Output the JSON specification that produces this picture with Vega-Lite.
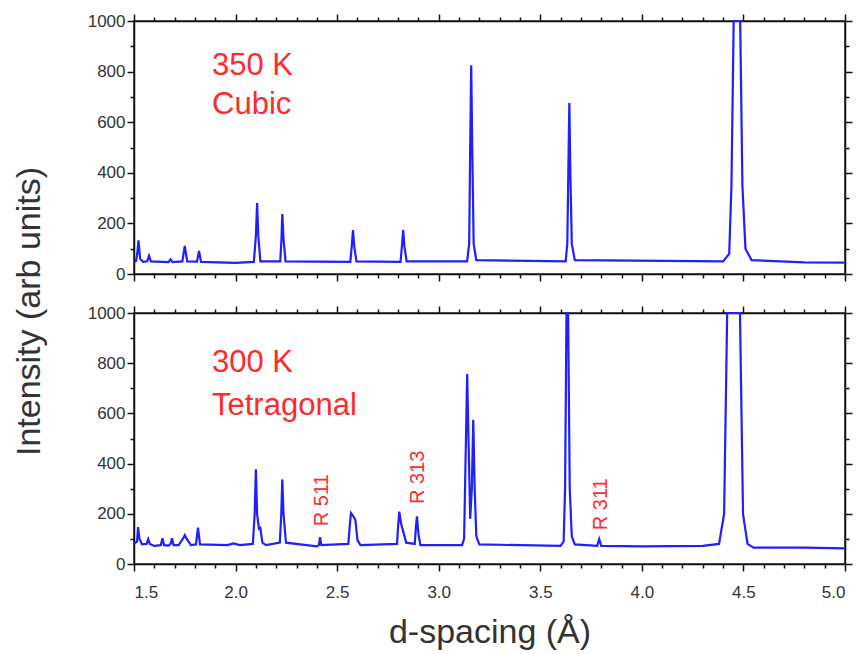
{
  "$schema": "https://vega.github.io/schema/vega-lite/v6.json",
  "padding": {"left": 11, "top": 11, "right": 4, "bottom": 120},
  "bounds": "flush",
  "spacing": 39,
  "config": {
    "view": {"stroke": "#222", "strokeWidth": 1.5},
    "font": "Liberation Sans",
    "axis": {
      "labelFont": "Liberation Sans", "labelFontSize": 17, "labelColor": "#333",
      "tickColor": "#111", "domainColor": "#111", "domainWidth": 1.5, "tickWidth": 1.5,
      "grid": false, "titleFont": "Liberation Sans", "titleFontWeight": "normal",
      "titleColor": "#333", "titleFontSize": 34
    }
  },
  "datasets": {
    "c": [
      {"d": 1.5, "i": 45}, {"d": 1.51, "i": 52}, {"d": 1.516, "i": 80}, {"d": 1.522, "i": 133}, {"d": 1.53, "i": 60}, {"d": 1.545, "i": 48},
      {"d": 1.565, "i": 50}, {"d": 1.574, "i": 72}, {"d": 1.583, "i": 50},
      {"d": 1.67, "i": 47}, {"d": 1.68, "i": 58}, {"d": 1.69, "i": 47},
      {"d": 1.738, "i": 50}, {"d": 1.75, "i": 111}, {"d": 1.762, "i": 50},
      {"d": 1.81, "i": 49}, {"d": 1.82, "i": 91}, {"d": 1.83, "i": 48},
      {"d": 2.0, "i": 44}, {"d": 2.09, "i": 48}, {"d": 2.1, "i": 150}, {"d": 2.106, "i": 280}, {"d": 2.112, "i": 150}, {"d": 2.122, "i": 50},
      {"d": 2.22, "i": 50}, {"d": 2.226, "i": 140}, {"d": 2.23, "i": 237}, {"d": 2.236, "i": 140}, {"d": 2.246, "i": 50},
      {"d": 2.565, "i": 48}, {"d": 2.572, "i": 110}, {"d": 2.578, "i": 174}, {"d": 2.584, "i": 110}, {"d": 2.595, "i": 50},
      {"d": 2.812, "i": 48}, {"d": 2.819, "i": 110}, {"d": 2.825, "i": 174}, {"d": 2.831, "i": 110}, {"d": 2.842, "i": 50},
      {"d": 3.14, "i": 50}, {"d": 3.15, "i": 120}, {"d": 3.155, "i": 500}, {"d": 3.16, "i": 825}, {"d": 3.165, "i": 500}, {"d": 3.172, "i": 120}, {"d": 3.185, "i": 55},
      {"d": 3.625, "i": 50}, {"d": 3.633, "i": 120}, {"d": 3.638, "i": 400}, {"d": 3.643, "i": 676}, {"d": 3.648, "i": 400}, {"d": 3.655, "i": 120}, {"d": 3.67, "i": 55},
      {"d": 4.4, "i": 50}, {"d": 4.43, "i": 80}, {"d": 4.441, "i": 350}, {"d": 4.452, "i": 1000}, {"d": 4.484, "i": 1000}, {"d": 4.495, "i": 350}, {"d": 4.51, "i": 100}, {"d": 4.54, "i": 55},
      {"d": 4.8, "i": 46}, {"d": 5.0, "i": 45}
    ],
    "t": [
      {"d": 1.5, "i": 80}, {"d": 1.515, "i": 90}, {"d": 1.52, "i": 147}, {"d": 1.527, "i": 100}, {"d": 1.54, "i": 78},
      {"d": 1.562, "i": 80}, {"d": 1.57, "i": 99}, {"d": 1.578, "i": 80}, {"d": 1.6, "i": 72},
      {"d": 1.632, "i": 75}, {"d": 1.64, "i": 103}, {"d": 1.648, "i": 75}, {"d": 1.67, "i": 73},
      {"d": 1.68, "i": 80}, {"d": 1.687, "i": 103}, {"d": 1.695, "i": 75}, {"d": 1.72, "i": 75},
      {"d": 1.74, "i": 100}, {"d": 1.75, "i": 115}, {"d": 1.76, "i": 100}, {"d": 1.78, "i": 75},
      {"d": 1.805, "i": 78}, {"d": 1.815, "i": 145}, {"d": 1.825, "i": 78},
      {"d": 1.96, "i": 75}, {"d": 1.99, "i": 82}, {"d": 2.02, "i": 75},
      {"d": 2.085, "i": 80}, {"d": 2.094, "i": 200}, {"d": 2.1, "i": 377}, {"d": 2.106, "i": 200}, {"d": 2.115, "i": 140}, {"d": 2.122, "i": 144}, {"d": 2.132, "i": 85}, {"d": 2.15, "i": 75},
      {"d": 2.218, "i": 85}, {"d": 2.225, "i": 200}, {"d": 2.23, "i": 337}, {"d": 2.236, "i": 200}, {"d": 2.248, "i": 85},
      {"d": 2.4, "i": 70}, {"d": 2.41, "i": 75}, {"d": 2.416, "i": 107}, {"d": 2.422, "i": 75},
      {"d": 2.555, "i": 80}, {"d": 2.562, "i": 150}, {"d": 2.568, "i": 203}, {"d": 2.58, "i": 190}, {"d": 2.59, "i": 175}, {"d": 2.6, "i": 95}, {"d": 2.615, "i": 75},
      {"d": 2.795, "i": 80}, {"d": 2.8, "i": 150}, {"d": 2.806, "i": 209}, {"d": 2.815, "i": 160}, {"d": 2.825, "i": 130}, {"d": 2.84, "i": 85},
      {"d": 2.882, "i": 80}, {"d": 2.888, "i": 150}, {"d": 2.893, "i": 190}, {"d": 2.9, "i": 120}, {"d": 2.91, "i": 75},
      {"d": 3.115, "i": 75}, {"d": 3.125, "i": 100}, {"d": 3.133, "i": 450}, {"d": 3.14, "i": 757}, {"d": 3.148, "i": 450}, {"d": 3.155, "i": 180},
      {"d": 3.163, "i": 300}, {"d": 3.17, "i": 575}, {"d": 3.177, "i": 300}, {"d": 3.185, "i": 110}, {"d": 3.2, "i": 78},
      {"d": 3.6, "i": 72}, {"d": 3.615, "i": 90}, {"d": 3.622, "i": 300}, {"d": 3.629, "i": 1000}, {"d": 3.637, "i": 1000}, {"d": 3.645, "i": 300}, {"d": 3.655, "i": 110}, {"d": 3.67, "i": 78},
      {"d": 3.78, "i": 72}, {"d": 3.79, "i": 99}, {"d": 3.8, "i": 72},
      {"d": 4.0, "i": 70}, {"d": 4.3, "i": 72}, {"d": 4.38, "i": 80}, {"d": 4.405, "i": 200}, {"d": 4.42, "i": 1000}, {"d": 4.483, "i": 1000}, {"d": 4.498, "i": 200}, {"d": 4.52, "i": 80},
      {"d": 4.55, "i": 65}, {"d": 4.8, "i": 65}, {"d": 5.0, "i": 62}
    ],
    "ann": [
      {"p": "c", "k": "big", "x": 1.884, "y": 822, "label": "350 K"},
      {"p": "c", "k": "big", "x": 1.884, "y": 668, "label": "Cubic"},
      {"p": "t", "k": "big", "x": 1.884, "y": 802, "label": "300 K"},
      {"p": "t", "k": "big", "x": 1.884, "y": 631, "label": "Tetragonal"},
      {"p": "t", "k": "small", "x": 2.424, "y": 254, "label": "R 511"},
      {"p": "t", "k": "small", "x": 2.899, "y": 345, "label": "R 313"},
      {"p": "t", "k": "small", "x": 3.8, "y": 238, "label": "R 311"}
    ]
  },
  "vconcat": [
    {
      "width": 711, "height": 253,
      "resolve": {"axis": {"x": "independent", "y": "independent"}},
      "layer": [
        {
          "data": {"name": "c"},
          "mark": {"type": "line", "color": "#1f1fff", "strokeWidth": 2.2},
          "encoding": {
            "x": {"field": "d", "type": "quantitative", "scale": {"domain": [1.5, 5], "nice": false, "zero": false},
              "axis": {"orient": "bottom", "values": [1.5, 2, 2.5, 3, 3.5, 4, 4.5, 5], "labels": false, "tickSize": 7, "title": null}},
            "y": {"field": "i", "type": "quantitative", "scale": {"domain": [0, 1000], "nice": false},
              "axis": {"orient": "left", "values": [0, 200, 400, 600, 800, 1000], "format": "d", "tickSize": 7, "labelPadding": 2, "title": null}}
          }
        },
        {
          "data": {"name": "c"},
          "mark": {"type": "line", "strokeOpacity": 0},
          "encoding": {
            "x": {"field": "d", "type": "quantitative", "axis": {"orient": "bottom", "values": [1.6,1.7,1.8,1.9,2.1,2.2,2.3,2.4,2.6,2.7,2.8,2.9,3.1,3.2,3.3,3.4,3.6,3.7,3.8,3.9,4.1,4.2,4.3,4.4,4.6,4.7,4.8,4.9], "labels": false, "domain": false, "tickSize": 4, "title": null}},
            "y": {"field": "i", "type": "quantitative", "axis": {"orient": "left", "values": [100, 300, 500, 700, 900], "labels": false, "domain": false, "tickSize": 4, "title": null}}
          }
        },
        {
          "data": {"name": "c"},
          "mark": {"type": "line", "strokeOpacity": 0},
          "encoding": {
            "x": {"field": "d", "type": "quantitative", "axis": {"orient": "top", "values": [1.5, 2, 2.5, 3, 3.5, 4, 4.5, 5], "labels": false, "tickSize": 7, "title": null}},
            "y": {"field": "i", "type": "quantitative", "axis": {"orient": "right", "values": [0, 200, 400, 600, 800, 1000], "labels": false, "tickSize": 7, "title": null}}
          }
        },
        {
          "data": {"name": "c"},
          "mark": {"type": "line", "strokeOpacity": 0},
          "encoding": {
            "x": {"field": "d", "type": "quantitative", "axis": {"orient": "top", "values": [1.6,1.7,1.8,1.9,2.1,2.2,2.3,2.4,2.6,2.7,2.8,2.9,3.1,3.2,3.3,3.4,3.6,3.7,3.8,3.9,4.1,4.2,4.3,4.4,4.6,4.7,4.8,4.9], "labels": false, "domain": false, "tickSize": 4, "title": null}},
            "y": {"field": "i", "type": "quantitative", "axis": {"orient": "right", "values": [100, 300, 500, 700, 900], "labels": false, "domain": false, "tickSize": 4, "title": null}}
          }
        },
        {
          "data": {"name": "ann"},
          "transform": [{"filter": "datum.p == 'c'"}],
          "mark": {"type": "text", "align": "left", "baseline": "middle", "fontSize": 31, "color": "#ff2a2a", "font": "Liberation Sans"},
          "encoding": {
            "x": {"field": "x", "type": "quantitative", "axis": null},
            "y": {"field": "y", "type": "quantitative", "axis": null},
            "text": {"field": "label"}
          }
        }
      ]
    },
    {
      "width": 711, "height": 251,
      "resolve": {"axis": {"x": "independent", "y": "independent"}},
      "layer": [
        {
          "data": {"name": "t"},
          "mark": {"type": "line", "color": "#1f1fff", "strokeWidth": 2.2},
          "encoding": {
            "x": {"field": "d", "type": "quantitative", "scale": {"domain": [1.5, 5], "nice": false, "zero": false},
              "axis": {"orient": "bottom", "values": [1.5, 2, 2.5, 3, 3.5, 4, 4.5, 5], "format": ".1f", "tickSize": 7, "labelPadding": 13,
                "title": "d-spacing (Å)", "titlePadding": 15}},
            "y": {"field": "i", "type": "quantitative", "scale": {"domain": [0, 1000], "nice": false},
              "axis": {"orient": "left", "values": [0, 200, 400, 600, 800, 1000], "format": "d", "tickSize": 7, "labelPadding": 2,
                "title": "Intensity (arb units)", "titleX": -88, "titleY": -2}}
          }
        },
        {
          "data": {"name": "t"},
          "mark": {"type": "line", "strokeOpacity": 0},
          "encoding": {
            "x": {"field": "d", "type": "quantitative", "axis": {"orient": "bottom", "values": [1.6,1.7,1.8,1.9,2.1,2.2,2.3,2.4,2.6,2.7,2.8,2.9,3.1,3.2,3.3,3.4,3.6,3.7,3.8,3.9,4.1,4.2,4.3,4.4,4.6,4.7,4.8,4.9], "labels": false, "domain": false, "tickSize": 4, "title": null}},
            "y": {"field": "i", "type": "quantitative", "axis": {"orient": "left", "values": [100, 300, 500, 700, 900], "labels": false, "domain": false, "tickSize": 4, "title": null}}
          }
        },
        {
          "data": {"name": "t"},
          "mark": {"type": "line", "strokeOpacity": 0},
          "encoding": {
            "x": {"field": "d", "type": "quantitative", "axis": {"orient": "top", "values": [1.5, 2, 2.5, 3, 3.5, 4, 4.5, 5], "labels": false, "tickSize": 7, "title": null}},
            "y": {"field": "i", "type": "quantitative", "axis": {"orient": "right", "values": [0, 200, 400, 600, 800, 1000], "labels": false, "tickSize": 7, "title": null}}
          }
        },
        {
          "data": {"name": "t"},
          "mark": {"type": "line", "strokeOpacity": 0},
          "encoding": {
            "x": {"field": "d", "type": "quantitative", "axis": {"orient": "top", "values": [1.6,1.7,1.8,1.9,2.1,2.2,2.3,2.4,2.6,2.7,2.8,2.9,3.1,3.2,3.3,3.4,3.6,3.7,3.8,3.9,4.1,4.2,4.3,4.4,4.6,4.7,4.8,4.9], "labels": false, "domain": false, "tickSize": 4, "title": null}},
            "y": {"field": "i", "type": "quantitative", "axis": {"orient": "right", "values": [100, 300, 500, 700, 900], "labels": false, "domain": false, "tickSize": 4, "title": null}}
          }
        },
        {
          "data": {"name": "ann"},
          "transform": [{"filter": "datum.p == 't' && datum.k == 'big'"}],
          "mark": {"type": "text", "align": "left", "baseline": "middle", "fontSize": 31, "color": "#ff2a2a", "font": "Liberation Sans"},
          "encoding": {
            "x": {"field": "x", "type": "quantitative", "axis": null},
            "y": {"field": "y", "type": "quantitative", "axis": null},
            "text": {"field": "label"}
          }
        },
        {
          "data": {"name": "ann"},
          "transform": [{"filter": "datum.p == 't' && datum.k == 'small'"}],
          "mark": {"type": "text", "align": "center", "baseline": "middle", "angle": 270, "fontSize": 20, "color": "#ff2a2a", "font": "Liberation Sans"},
          "encoding": {
            "x": {"field": "x", "type": "quantitative", "axis": null},
            "y": {"field": "y", "type": "quantitative", "axis": null},
            "text": {"field": "label"}
          }
        }
      ]
    }
  ]
}
